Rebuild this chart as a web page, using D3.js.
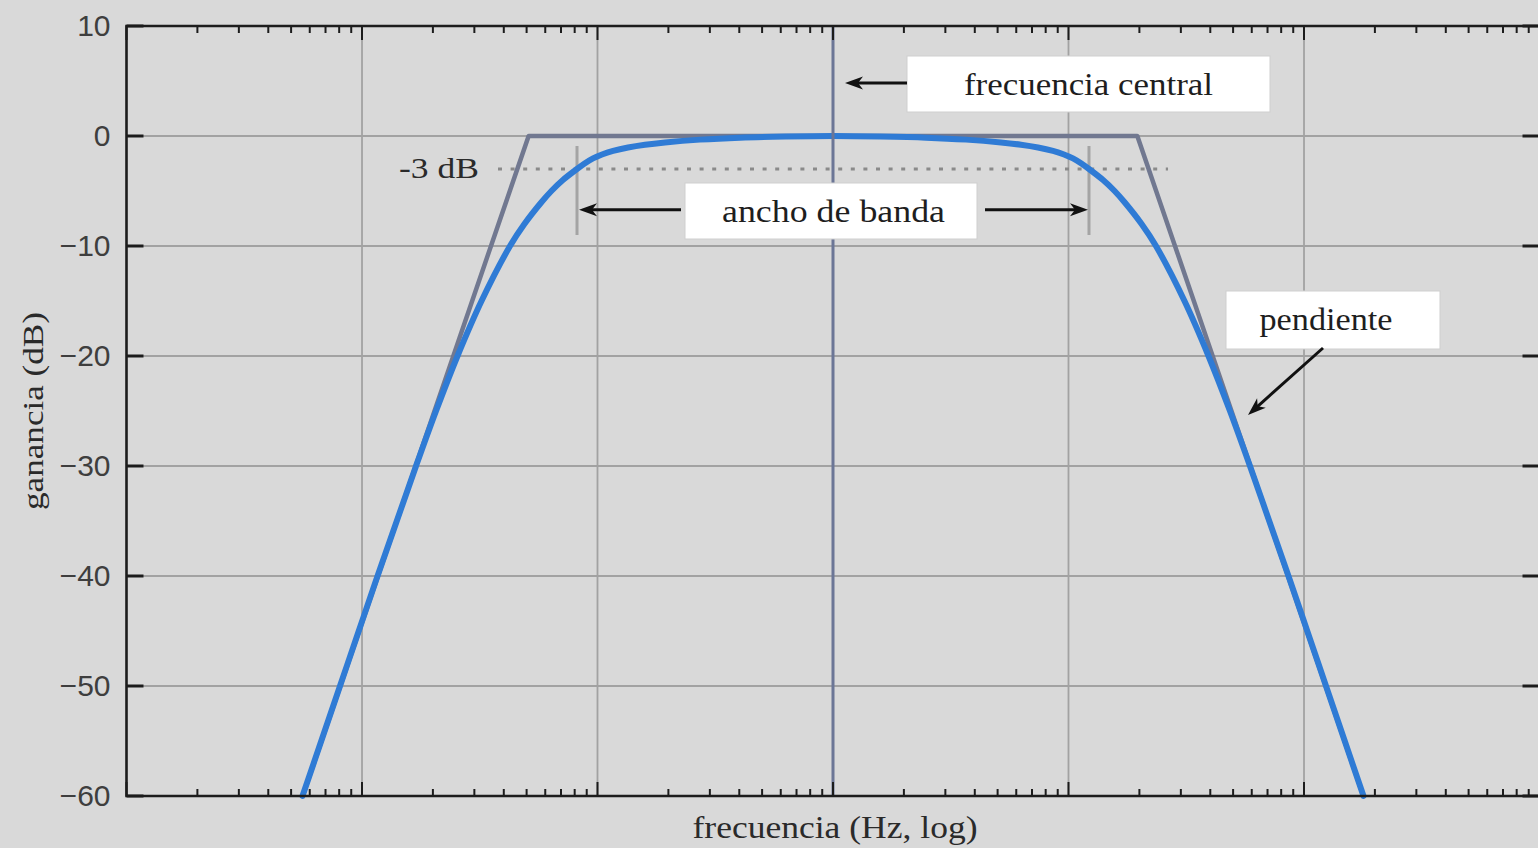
<!DOCTYPE html>
<html>
<head>
<meta charset="utf-8">
<script src="https://cdn.jsdelivr.net/npm/d3@7"></script>
<style>
  html, body { margin: 0; padding: 0; background: #d9d9d9; }
  svg { display: block; }
</style>
</head>
<body>
<svg id="chart" width="1538" height="848"></svg>
<script>
// Gain axis ticks (dB) and their labels
const gainTicks = [10, 0, -10, -20, -30, -40, -50, -60];
const gainTickLabels = ["10", "0", "\u221210", "\u221220", "\u221230", "\u221240", "\u221250", "\u221260"];

// Band-pass magnitude response: frequency (Hz) and gain (dB)
const responseFreq = [5.589, 6.714, 8.065, 9.687, 11.64, 14.05, 16.96, 20.62, 25.44, 32.17, 42.51, 48.93,
                      57.90, 63.71, 71.30, 81.84, 88.49, 95.70, 104.5, 116.4, 134.8, 159.1, 193.5, 272.4, 402.8, 625.4,
                      1000,
                      1599, 2483, 3671, 5168, 6285, 7421, 8594, 9569, 10449, 11301, 12219, 14025, 15696, 17271,
                      20437, 23524, 31085, 39308, 48497, 58962, 71174, 85911, 103231, 123993, 148943, 178923];
const responseGain = [-60, -55, -50, -45, -40, -35, -30, -25, -20, -15, -10, -8,
                      -6, -5, -4, -3, -2.48, -2.04, -1.68, -1.36, -1.05, -0.80, -0.59, -0.33, -0.15, -0.05,
                      0,
                      -0.05, -0.15, -0.33, -0.59, -0.80, -1.05, -1.36, -1.68, -2.04, -2.48, -3, -4, -5, -6,
                      -8, -10, -15, -20, -25, -30, -35, -40, -45, -50, -55, -60];

// Straight-line (asymptotic) approximation of the same filter
const asymptoteFreq = [5.6, 51, 19600, 178600];
const asymptoteGain = [-60, 0, 0, -60];

// Key frequencies
const centerFreq = 1000;
const bandEdgeFreq = [81.84, 12219];    // -3 dB points
const halfPowerGain = -3;
const halfPowerSpan = [37.8, 26460];    // extent of the dotted -3 dB guide

const svg = d3.select("#chart");
const W = 1538, H = 848;

const x = d3.scaleLog().domain([1, 1e6]).range([126.5, 1539.5]);
const y = d3.scaleLinear().domain([-60, 10]).range([796, 26]);

const [x0, x1] = x.range();
const [yB, yT] = y.range();

svg.append("rect").attr("width", W).attr("height", H).attr("fill", "#d9d9d9");

// ---- grid ----
const grid = svg.append("g").attr("stroke", "#a2a2a2").attr("stroke-width", 1.8);
grid.selectAll("line.h")
  .data(gainTicks.filter(g => g < 10 && g > -60))
  .join("line")
  .attr("x1", x0).attr("x2", x1)
  .attr("y1", d => y(d)).attr("y2", d => y(d));

const decades = x.ticks().filter(v => Math.abs(Math.log10(v) - Math.round(Math.log10(v))) < 1e-9);
grid.selectAll("line.v")
  .data(decades.filter(v => v > 1 && v < 1e6))
  .join("line")
  .attr("x1", d => x(d)).attr("x2", d => x(d))
  .attr("y1", yT).attr("y2", yB);

// ---- -3 dB dotted guide ----
svg.append("line")
  .attr("x1", x(halfPowerSpan[0])).attr("x2", x(halfPowerSpan[1]))
  .attr("y1", y(halfPowerGain)).attr("y2", y(halfPowerGain))
  .attr("stroke", "#8a8a8a").attr("stroke-width", 3.2)
  .attr("stroke-dasharray", "4 8.6");

// ---- asymptotic approximation ----
const asymData = asymptoteFreq.map((f, i) => [f, asymptoteGain[i]]);
svg.append("path")
  .datum(asymData)
  .attr("fill", "none")
  .attr("stroke", "#717890")
  .attr("stroke-width", 4.5)
  .attr("stroke-linejoin", "round")
  .attr("d", d3.line().x(d => x(d[0])).y(d => y(d[1])));

// ---- bandwidth edge markers ----
svg.append("g").selectAll("line")
  .data(bandEdgeFreq)
  .join("line")
  .attr("x1", d => x(d)).attr("x2", d => x(d))
  .attr("y1", y(halfPowerGain) - 23).attr("y2", y(halfPowerGain) + 66)
  .attr("stroke", "#a4a4a4").attr("stroke-width", 3);

// ---- response curve ----
const respData = responseFreq.map((f, i) => [f, responseGain[i]]);
svg.append("path")
  .datum(respData)
  .attr("fill", "none")
  .attr("stroke", "#2f7bd5")
  .attr("stroke-width", 6)
  .attr("stroke-linecap", "round")
  .attr("stroke-linejoin", "round")
  .attr("d", d3.line().x(d => x(d[0])).y(d => y(d[1])).curve(d3.curveCatmullRom.alpha(0.5)));

// ---- centre frequency line ----
svg.append("line")
  .attr("x1", x(centerFreq)).attr("x2", x(centerFreq))
  .attr("y1", yT).attr("y2", yB)
  .attr("stroke", "#6c7696").attr("stroke-width", 3);

// ---- frame and ticks ----
const axisColor = "#1c1c1c";
svg.append("path")
  .attr("d", `M${x1},${yT}H${x0}V${yB}H${x1}`)
  .attr("fill", "none").attr("stroke", axisColor).attr("stroke-width", 2.6);

const ticks = svg.append("g").attr("stroke", axisColor).attr("stroke-width", 2);
const xt = x.ticks();
const isMajor = v => decades.includes(v);
ticks.selectAll("line.b").data(xt).join("line")
  .attr("x1", d => x(d)).attr("x2", d => x(d))
  .attr("y1", yB).attr("y2", d => yB - (isMajor(d) ? 14 : 7));
ticks.selectAll("line.t").data(xt).join("line")
  .attr("x1", d => x(d)).attr("x2", d => x(d))
  .attr("y1", yT).attr("y2", d => yT + (isMajor(d) ? 14 : 7));
ticks.selectAll("line.l").data(gainTicks).join("line")
  .attr("x1", x0).attr("x2", x0 + 17)
  .attr("y1", d => y(d)).attr("y2", d => y(d))
  .attr("stroke-width", 3);
ticks.selectAll("line.r").data(gainTicks).join("line")
  .attr("x1", x1).attr("x2", x1 - 17)
  .attr("y1", d => y(d)).attr("y2", d => y(d))
  .attr("stroke-width", 3);

// gain tick labels
const yAxis = d3.axisLeft(y)
  .tickValues(gainTicks)
  .tickFormat((d, i) => gainTickLabels[i])
  .tickSize(0)
  .tickPadding(16);
const gy = svg.append("g").attr("transform", `translate(${x0},0)`).call(yAxis);
gy.select(".domain").remove();
gy.selectAll("text")
  .attr("font-family", "'Liberation Sans', Arial, sans-serif")
  .attr("font-size", 30)
  .attr("fill", "#3e3e3e");

// ---- axis titles ----
const serif = "'Liberation Serif', 'Times New Roman', serif";
svg.append("text")
  .attr("x", 835).attr("y", 838)
  .attr("text-anchor", "middle")
  .attr("font-family", serif).attr("font-size", 31).attr("fill", "#2a2a2a")
  .attr("textLength", 285).attr("lengthAdjust", "spacingAndGlyphs")
  .text("frecuencia (Hz, log)");

svg.append("text")
  .attr("transform", "translate(43,411) rotate(-90)")
  .attr("text-anchor", "middle")
  .attr("font-family", serif).attr("font-size", 30).attr("fill", "#2a2a2a")
  .attr("textLength", 198).attr("lengthAdjust", "spacingAndGlyphs")
  .text("ganancia (dB)");

// -3 dB label
svg.append("text")
  .attr("x", 479).attr("y", 178)
  .attr("text-anchor", "end")
  .attr("font-family", serif).attr("font-size", 29).attr("fill", "#2a2a2a")
  .attr("textLength", 80).attr("lengthAdjust", "spacingAndGlyphs")
  .text("-3 dB");

// ---- annotations ----
function labelBox(bx, by, bw, bh, tx, ty, tw, str) {
  svg.append("rect")
    .attr("x", bx).attr("y", by).attr("width", bw).attr("height", bh)
    .attr("fill", "#ffffff").attr("stroke", "#cfcfcf").attr("stroke-width", 1);
  svg.append("text")
    .attr("x", tx).attr("y", ty)
    .attr("text-anchor", "middle")
    .attr("font-family", serif).attr("font-size", 31).attr("fill", "#1e1e1e")
    .attr("textLength", tw).attr("lengthAdjust", "spacingAndGlyphs")
    .text(str);
}

function arrow(xa, ya, xb, yb) {
  const ang = Math.atan2(yb - ya, xb - xa);
  const len = Math.hypot(xb - xa, yb - ya);
  const g = svg.append("g")
    .attr("transform", `translate(${xa},${ya}) rotate(${ang * 180 / Math.PI})`);
  g.append("line")
    .attr("x1", 0).attr("y1", 0).attr("x2", len - 10).attr("y2", 0)
    .attr("stroke", "#111").attr("stroke-width", 3);
  g.append("path")
    .attr("d", `M${len},0L${len - 18},-6.5L${len - 13},0L${len - 18},6.5Z`)
    .attr("fill", "#111");
}

// centre frequency
labelBox(907, 56, 363, 56, 1088.5, 95, 249, "frecuencia central");
arrow(907, 83, x(centerFreq) + 12, 83);

// bandwidth
labelBox(685, 183, 292, 56, 833.5, 222, 223, "ancho de banda");
arrow(681, y(-6.7), x(bandEdgeFreq[0]) + 2, y(-6.7));
arrow(985, y(-6.7), x(bandEdgeFreq[1]) - 1, y(-6.7));

// slope
labelBox(1226, 291, 214, 58, 1326, 330, 133, "pendiente");
arrow(1323, 348, 1248, 415);
</script>
</body>
</html>
